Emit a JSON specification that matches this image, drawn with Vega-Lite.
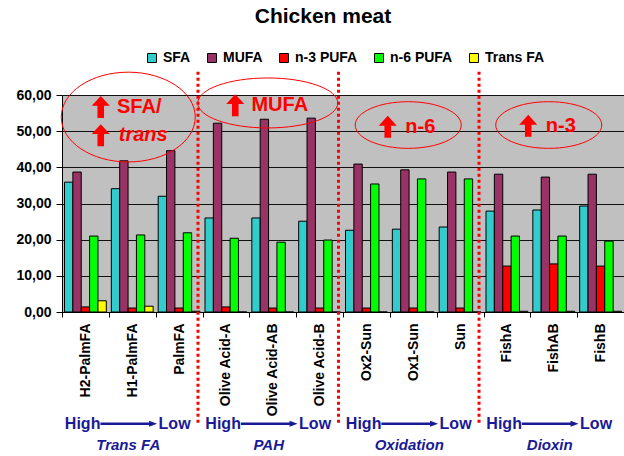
{
  "$schema": "https://vega.github.io/schema/vega-lite/v6.json",
  "autosize": "none",
  "padding": {"left": 62, "top": 95, "right": 0, "bottom": 144},
  "width": 562,
  "height": 217,
  "background": "white",
  "title": {"text": "Chicken meat", "font": "Liberation Sans", "fontSize": 21, "fontWeight": "bold", "color": "black", "anchor": "middle", "offset": 24, "dx": -20},
  "config": {
    "view": {"fill": "#C0C0C0", "stroke": null},
    "axis": {"labelFont": "Liberation Sans", "labelColor": "black", "domainColor": "black", "tickColor": "black", "labelOverlap": false}
  },
  "resolve": {"axis": {"x": "independent", "y": "independent"}},
  "datasets": {
    "fat": [
      {"sample": "H2-PalmFA", "fa": "SFA", "value": 35.9}, {"sample": "H2-PalmFA", "fa": "MUFA", "value": 38.7}, {"sample": "H2-PalmFA", "fa": "n-3 PUFA", "value": 1.4}, {"sample": "H2-PalmFA", "fa": "n-6 PUFA", "value": 21.0}, {"sample": "H2-PalmFA", "fa": "Trans FA", "value": 3.1},
      {"sample": "H1-PalmFA", "fa": "SFA", "value": 34.1}, {"sample": "H1-PalmFA", "fa": "MUFA", "value": 41.8}, {"sample": "H1-PalmFA", "fa": "n-3 PUFA", "value": 1.1}, {"sample": "H1-PalmFA", "fa": "n-6 PUFA", "value": 21.3}, {"sample": "H1-PalmFA", "fa": "Trans FA", "value": 1.6},
      {"sample": "PalmFA", "fa": "SFA", "value": 32.0}, {"sample": "PalmFA", "fa": "MUFA", "value": 44.6}, {"sample": "PalmFA", "fa": "n-3 PUFA", "value": 1.1}, {"sample": "PalmFA", "fa": "n-6 PUFA", "value": 21.9}, {"sample": "PalmFA", "fa": "Trans FA", "value": 0.2},
      {"sample": "Olive  Acid-A", "fa": "SFA", "value": 26.0}, {"sample": "Olive  Acid-A", "fa": "MUFA", "value": 52.2}, {"sample": "Olive  Acid-A", "fa": "n-3 PUFA", "value": 1.4}, {"sample": "Olive  Acid-A", "fa": "n-6 PUFA", "value": 20.4}, {"sample": "Olive  Acid-A", "fa": "Trans FA", "value": 0},
      {"sample": "Olive Acid-AB", "fa": "SFA", "value": 26.0}, {"sample": "Olive Acid-AB", "fa": "MUFA", "value": 53.3}, {"sample": "Olive Acid-AB", "fa": "n-3 PUFA", "value": 1.1}, {"sample": "Olive Acid-AB", "fa": "n-6 PUFA", "value": 19.3}, {"sample": "Olive Acid-AB", "fa": "Trans FA", "value": 0},
      {"sample": "Olive  Acid-B", "fa": "SFA", "value": 25.1}, {"sample": "Olive  Acid-B", "fa": "MUFA", "value": 53.6}, {"sample": "Olive  Acid-B", "fa": "n-3 PUFA", "value": 1.1}, {"sample": "Olive  Acid-B", "fa": "n-6 PUFA", "value": 19.9}, {"sample": "Olive  Acid-B", "fa": "Trans FA", "value": 0},
      {"sample": "Ox2-Sun", "fa": "SFA", "value": 22.6}, {"sample": "Ox2-Sun", "fa": "MUFA", "value": 40.9}, {"sample": "Ox2-Sun", "fa": "n-3 PUFA", "value": 1.1}, {"sample": "Ox2-Sun", "fa": "n-6 PUFA", "value": 35.4}, {"sample": "Ox2-Sun", "fa": "Trans FA", "value": 0},
      {"sample": "Ox1-Sun", "fa": "SFA", "value": 22.9}, {"sample": "Ox1-Sun", "fa": "MUFA", "value": 39.3}, {"sample": "Ox1-Sun", "fa": "n-3 PUFA", "value": 1.1}, {"sample": "Ox1-Sun", "fa": "n-6 PUFA", "value": 36.8}, {"sample": "Ox1-Sun", "fa": "Trans FA", "value": 0},
      {"sample": "Sun", "fa": "SFA", "value": 23.5}, {"sample": "Sun", "fa": "MUFA", "value": 38.7}, {"sample": "Sun", "fa": "n-3 PUFA", "value": 1.1}, {"sample": "Sun", "fa": "n-6 PUFA", "value": 36.8}, {"sample": "Sun", "fa": "Trans FA", "value": 0},
      {"sample": "FishA", "fa": "SFA", "value": 27.9}, {"sample": "FishA", "fa": "MUFA", "value": 38.1}, {"sample": "FishA", "fa": "n-3 PUFA", "value": 12.7}, {"sample": "FishA", "fa": "n-6 PUFA", "value": 21.0}, {"sample": "FishA", "fa": "Trans FA", "value": 0.2},
      {"sample": "FishAB", "fa": "SFA", "value": 28.2}, {"sample": "FishAB", "fa": "MUFA", "value": 37.3}, {"sample": "FishAB", "fa": "n-3 PUFA", "value": 13.3}, {"sample": "FishAB", "fa": "n-6 PUFA", "value": 21.0}, {"sample": "FishAB", "fa": "Trans FA", "value": 0.2},
      {"sample": "FishB", "fa": "SFA", "value": 29.3}, {"sample": "FishB", "fa": "MUFA", "value": 38.1}, {"sample": "FishB", "fa": "n-3 PUFA", "value": 12.7}, {"sample": "FishB", "fa": "n-6 PUFA", "value": 19.6}, {"sample": "FishB", "fa": "Trans FA", "value": 0.2}
    ],
    "groups": [
      {"first": "H2-PalmFA", "mid": "H1-PalmFA", "last": "PalmFA", "name": "Trans FA"},
      {"first": "Olive  Acid-A", "mid": "Olive Acid-AB", "last": "Olive  Acid-B", "name": "PAH"},
      {"first": "Ox2-Sun", "mid": "Ox1-Sun", "last": "Sun", "name": "Oxidation"},
      {"first": "FishA", "mid": "FishAB", "last": "FishB", "name": "Dioxin"}
    ],
    "notes": [
      {"sample": "H1-PalmFA", "label": "SFA/", "v": 56.7},
      {"sample": "Olive Acid-AB", "label": "MUFA", "v": 57.2},
      {"sample": "Ox1-Sun", "label": "n-6", "v": 51.2},
      {"sample": "FishAB", "label": "n-3", "v": 51.5}
    ],
    "dividers": [
      {"sample": "Olive  Acid-A"}, {"sample": "Ox2-Sun"}, {"sample": "FishA"}
    ]
  },
  "layer": [
    {
      "data": {"name": "fat"},
      "mark": {"type": "bar", "stroke": "black", "strokeWidth": 1},
      "encoding": {
        "x": {"field": "sample", "type": "nominal", "sort": null,
          "scale": {"domain": ["H2-PalmFA", "H1-PalmFA", "PalmFA", "Olive  Acid-A", "Olive Acid-AB", "Olive  Acid-B", "Ox2-Sun", "Ox1-Sun", "Sun", "FishA", "FishAB", "FishB"], "paddingInner": 0, "paddingOuter": 0},
          "axis": {"title": null, "labelAngle": -90, "labelFontSize": 14, "labelFontWeight": "bold", "tickBand": "extent", "tickSize": 5, "labelPadding": 6, "domainWidth": 1, "labelOverlap": false}},
        "xOffset": {"field": "fa", "type": "nominal", "sort": ["SFA", "MUFA", "n-3 PUFA", "n-6 PUFA", "Trans FA"], "scale": {"paddingInner": 0, "paddingOuter": 0.3}},
        "y": {"field": "value", "type": "quantitative", "scale": {"domain": [0, 60], "nice": false},
          "axis": {"title": null, "values": [0, 10, 20, 30, 40, 50, 60], "tickCount": 7, "labelOverlap": false, "labelExpr": "replace(format(datum.value, '.2f'), '.', ',')", "labelFontSize": 14, "labelFontWeight": "bold", "tickSize": 6, "labelPadding": 5, "grid": true, "gridColor": "#111111", "gridWidth": 1, "gridOpacity": 1}},
        "color": {"field": "fa", "type": "nominal", "sort": ["SFA", "MUFA", "n-3 PUFA", "n-6 PUFA", "Trans FA"],
          "scale": {"domain": ["SFA", "MUFA", "n-3 PUFA", "n-6 PUFA", "Trans FA"], "range": ["#33CCCC", "#993366", "#FF0000", "#00FF00", "#FFFF00"]},
          "legend": {"title": null, "orient": "none", "legendX": 83, "legendY": -44, "direction": "horizontal", "columns": 5, "symbolType": "square", "symbolSize": 81, "symbolStrokeColor": "black", "symbolStrokeWidth": 1, "symbolOpacity": 1, "labelFont": "Liberation Sans", "labelFontSize": 14, "labelFontWeight": "bold", "labelColor": "black", "labelOffset": 4, "columnPadding": 14}}
      }
    },
    {
      "data": {"values": [{"sample": "H1-PalmFA"}]},
      "mark": {"type": "point", "filled": false, "stroke": "#FF0000", "strokeWidth": 1, "opacity": 1, "size": 17956, "xOffset": -4, "shape": "M-1,0A1,0.67,0,1,0,1,0A1,0.67,0,1,0,-1,0Z"},
      "encoding": {"x": {"field": "sample", "type": "nominal", "axis": null}, "y": {"datum": 53.9, "axis": null}}
    },
    {
      "data": {"values": [{"sample": "Olive Acid-AB"}]},
      "mark": {"type": "point", "filled": false, "stroke": "#FF0000", "strokeWidth": 1, "opacity": 1, "size": 19600, "xOffset": -5, "shape": "M-1,0A1,0.357,0,1,0,1,0A1,0.357,0,1,0,-1,0Z"},
      "encoding": {"x": {"field": "sample", "type": "nominal", "axis": null}, "y": {"datum": 57.8, "axis": null}}
    },
    {
      "data": {"values": [{"sample": "Ox1-Sun"}, {"sample": "FishAB"}]},
      "mark": {"type": "point", "filled": false, "stroke": "#FF0000", "strokeWidth": 1, "opacity": 1, "size": 11236, "xOffset": -5, "shape": "M-1,0A1,0.44,0,1,0,1,0A1,0.44,0,1,0,-1,0Z"},
      "encoding": {"x": {"field": "sample", "type": "nominal", "axis": null}, "y": {"datum": 51.7, "axis": null}}
    },
    {
      "data": {"name": "notes"},
      "mark": {"type": "text", "font": "Liberation Sans", "fontSize": 20, "fontWeight": "bold", "color": "#FF0000", "align": "center", "baseline": "middle", "xOffset": 7},
      "encoding": {"x": {"field": "sample", "type": "nominal", "axis": null}, "y": {"field": "v", "type": "quantitative", "axis": null}, "text": {"field": "label"}}
    },
    {
      "data": {"values": [{"sample": "H1-PalmFA", "label": "trans"}]},
      "mark": {"type": "text", "font": "Liberation Sans", "fontSize": 20, "fontWeight": "bold", "fontStyle": "italic", "color": "#FF0000", "align": "center", "baseline": "middle", "xOffset": 11},
      "encoding": {"x": {"field": "sample", "type": "nominal", "axis": null}, "y": {"datum": 48.9, "axis": null}, "text": {"field": "label"}}
    },
    {
      "data": {"values": [{"sample": "H1-PalmFA", "v": 56.7}, {"sample": "H1-PalmFA", "v": 48.9}]},
      "mark": {"type": "point", "shape": "M0,-1L0.82,-0.1L0.3,-0.1L0.3,1L-0.3,1L-0.3,-0.1L-0.82,-0.1Z", "filled": true, "color": "#FF0000", "opacity": 1, "size": 484, "xOffset": -31.5},
      "encoding": {"x": {"field": "sample", "type": "nominal", "axis": null}, "y": {"field": "v", "type": "quantitative", "axis": null}}
    },
    {
      "data": {"values": [{"sample": "Olive Acid-AB"}]},
      "mark": {"type": "point", "shape": "M0,-1L0.82,-0.1L0.3,-0.1L0.3,1L-0.3,1L-0.3,-0.1L-0.82,-0.1Z", "filled": true, "color": "#FF0000", "opacity": 1, "size": 484, "xOffset": -37.5},
      "encoding": {"x": {"field": "sample", "type": "nominal", "axis": null}, "y": {"datum": 57.2, "axis": null}}
    },
    {
      "data": {"values": [{"sample": "Ox1-Sun", "v": 51.2}, {"sample": "FishAB", "v": 51.5}]},
      "mark": {"type": "point", "shape": "M0,-1L0.82,-0.1L0.3,-0.1L0.3,1L-0.3,1L-0.3,-0.1L-0.82,-0.1Z", "filled": true, "color": "#FF0000", "opacity": 1, "size": 484, "xOffset": -25.5},
      "encoding": {"x": {"field": "sample", "type": "nominal", "axis": null}, "y": {"field": "v", "type": "quantitative", "axis": null}}
    },
    {
      "data": {"name": "dividers"},
      "mark": {"type": "rule", "color": "#FF0000", "strokeWidth": 3, "strokeDash": [3, 3], "xOffset": -4.5},
      "encoding": {"x": {"field": "sample", "type": "nominal", "bandPosition": 0, "axis": null}, "y": {"datum": 66.4, "axis": null}, "y2": {"datum": -31.2}}
    },
    {
      "data": {"name": "groups"},
      "mark": {"type": "text", "font": "Liberation Sans", "fontSize": 16, "fontWeight": "bold", "color": "#1A1A96", "align": "right", "baseline": "middle", "xOffset": 15},
      "encoding": {"x": {"field": "first", "type": "nominal", "axis": null}, "y": {"datum": -30.9, "axis": null}, "text": {"value": "High"}}
    },
    {
      "data": {"name": "groups"},
      "mark": {"type": "rule", "color": "#1A1A96", "strokeWidth": 2.5, "xOffset": 15, "x2Offset": -28},
      "encoding": {"x": {"field": "first", "type": "nominal", "axis": null}, "x2": {"field": "last"}, "y": {"datum": -30.9, "axis": null}}
    },
    {
      "data": {"name": "groups"},
      "mark": {"type": "point", "shape": "M-1,-0.75L1,0L-1,0.75Z", "filled": true, "color": "#1A1A96", "opacity": 1, "size": 64, "xOffset": -26},
      "encoding": {"x": {"field": "last", "type": "nominal", "axis": null}, "y": {"datum": -30.9, "axis": null}}
    },
    {
      "data": {"name": "groups"},
      "mark": {"type": "text", "font": "Liberation Sans", "fontSize": 16, "fontWeight": "bold", "color": "#1A1A96", "align": "left", "baseline": "middle", "xOffset": -20.5},
      "encoding": {"x": {"field": "last", "type": "nominal", "axis": null}, "y": {"datum": -30.9, "axis": null}, "text": {"value": "Low"}}
    },
    {
      "data": {"name": "groups"},
      "mark": {"type": "text", "font": "Liberation Sans", "fontSize": 15, "fontWeight": "bold", "fontStyle": "italic", "color": "#1A1A96", "align": "center", "baseline": "middle", "xOffset": -4},
      "encoding": {"x": {"field": "mid", "type": "nominal", "axis": null}, "y": {"datum": -36.9, "axis": null}, "text": {"field": "name"}}
    }
  ]
}
